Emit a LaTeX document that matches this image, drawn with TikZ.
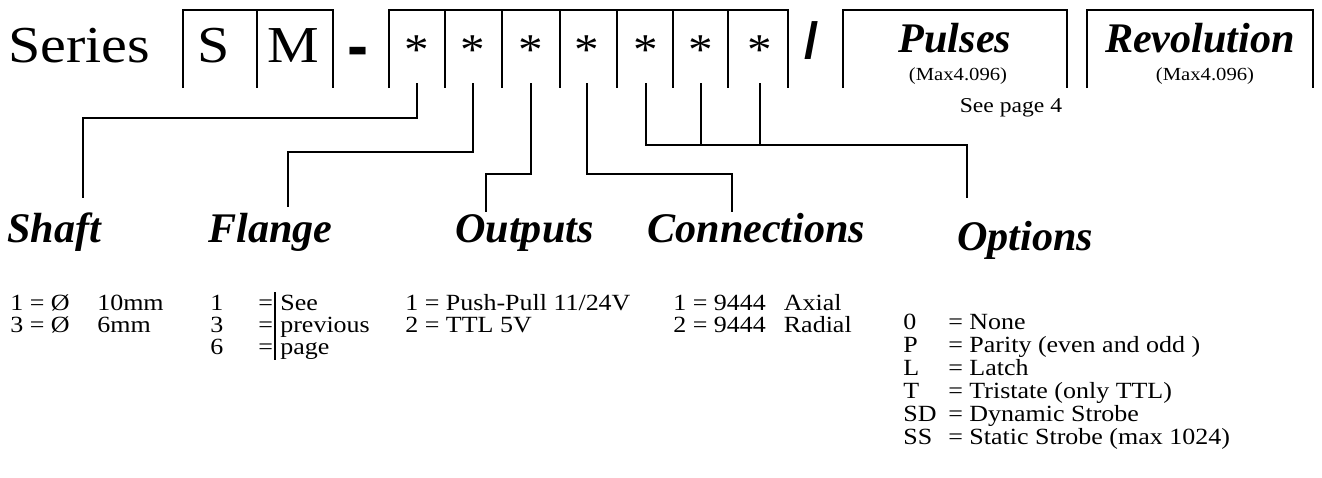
\documentclass[tikz,border=0pt]{standalone}
\usepackage{fontspec}
\setmainfont{Liberation Serif}
\setsansfont{Liberation Sans}
\newfontfamily\widefont{Liberation Serif}[FakeStretch=1.12]
\usepackage{graphicx}
\usetikzlibrary{calc}

\tikzset{
  frame/.style={line width=1.6pt},
  link/.style={line width=1.1pt},
  bigtxt/.style={inner sep=0pt, anchor=base, font=\widefont\fontsize{29.5}{33}\selectfont},
  asterisk/.style={inner sep=0pt, anchor=base, text depth=3.8mm, font=\widefont\fontsize{25}{29}\selectfont},
  heading/.style={inner sep=0pt, anchor=base west, font=\fontsize{24}{28}\selectfont\bfseries\itshape},
  boxhead/.style={inner sep=0pt, anchor=base, font=\fontsize{24}{28}\selectfont\bfseries\itshape},
  note/.style={inner sep=0pt, anchor=base, font=\widefont\fontsize{10.5}{12}\selectfont},
  list/.style={inner sep=0pt, anchor=base west, font=\widefont\fontsize{13.2}{15}\selectfont},
}

\begin{document}
\begin{tikzpicture}[x=0.02cm, y=-0.02cm]
  \useasboundingbox (0,0) rectangle (1322,477);
  % Code line
  \node[bigtxt, anchor=base west] (series) at (8,62) {Series};
  \node[bigtxt] (sbox) at (214,62) {S};
  \node[bigtxt] (mbox) at (293,62) {M};
  \node[inner sep=0pt, anchor=base, font=\fontsize{36}{40}\selectfont\sffamily\bfseries] (dash) at (358,67) {-};
  \node[inner sep=0pt, anchor=base, font=\fontsize{29}{33}\selectfont\sffamily\bfseries] (slash) at (812,58) {/};
  % Boxes
  \draw[frame] (183,88) |- (333,10) -- (333,88);
  \draw[frame] (257,10) -- (257,88);
  \draw[frame] (389,88) |- (788,10) -- (788,88);
  \foreach \x in {445,502,560,617,673,728}
    \draw[frame] (\x,10) -- (\x,88);
  \draw[frame] (843,88) |- (1067,10) -- (1067,88);
  \draw[frame] (1087,88) |- (1313,10) -- (1313,88);
  % Stars
  \foreach \i/\x in {1/417,2/473,3/531,4/587,5/646,6/701,7/760}
    \node[asterisk] (s\i) at (\x,64) {*};
  % Pulses / Revolution
  \node[boxhead] (pulses) at (955,52) {Pulses};
  \node[note] (pulsesmax) at (958,80) {(Max4.096)};
  \node[boxhead] (revolution) at (1200,52) {Revolution};
  \node[note] (revmax) at (1205,80) {(Max4.096)};
  \node[inner sep=0pt, anchor=base, font=\widefont\fontsize{12}{14}\selectfont] (seepage) at (1011,112) {See page 4};
  % Headings
  \node[heading] (shaft) at (7,242) {Shaft};
  \node[heading] (flange) at (208,242) {Flange};
  \node[heading] (outputs) at (455,242) {Outputs};
  \node[heading] (connections) at (647,242) {Connections};
  \node[heading] (options) at (957,250) {Options};
  % Connectors
  \draw[link] (s1.south) -- ++(0,35) -| ($(shaft.base west)+(76,-44)$);
  \draw[link] (s2.south) -- ++(0,69) -| ($(flange.base west)+(80,-35)$);
  \draw[link] (s3.south) -- ++(0,91) -| ($(outputs.base west)+(31,-30)$);
  \draw[link] (s4.south) -- ++(0,91) -| ($(connections.base west)+(85,-30)$);
  \draw[link] (s5.south) -- ++(0,62) coordinate (bus) -| ($(options.base west)+(10,-52)$);
  \draw[link] (s6.south) -- (s6.south |- bus);
  \draw[link] (s7.south) -- (s7.south |- bus);
  % Shaft list
  \foreach \n/\d/\mm in {1/1/10mm,2/3/6mm}
    \node[list] (shaft\n) at (10,288+22*\n) {\makebox[17.4mm][l]{\d{} = Ø}\mm};
  % Flange list
  \foreach \n/\d/\w in {1/1/See,2/3/previous,3/6/page} {
    \node[list] (flangekey\n) at (210,288+22*\n) {\makebox[9.6mm][l]{\d}=};
    \node[list] (flangeval\n) at (280,288+22*\n) {\w};
  }
  \draw[line width=1pt] (275,292) -- (275,360);
  % Outputs list
  \node[list] (output1) at (405,310) {1 = Push-Pull 11/24V};
  \node[list] (output2) at (405,332) {2 = TTL 5V};
  % Connections list
  \node[list] (conn1) at (673,310) {1 = 9444\hspace{3.6mm}Axial};
  \node[list] (conn2) at (673,332) {2 = 9444\hspace{3.6mm}Radial};
  % Options list
  \foreach \n/\k/\t in {1/0/None,2/P/Parity (even and odd ),3/L/Latch,
      4/T/Tristate (only TTL),5/SD/Dynamic Strobe,6/SS/Static Strobe (max 1024)}
    \node[list] (opt\n) at (903,306+23*\n) {\makebox[9mm][l]{\k}= \t};
\end{tikzpicture}
\end{document}
